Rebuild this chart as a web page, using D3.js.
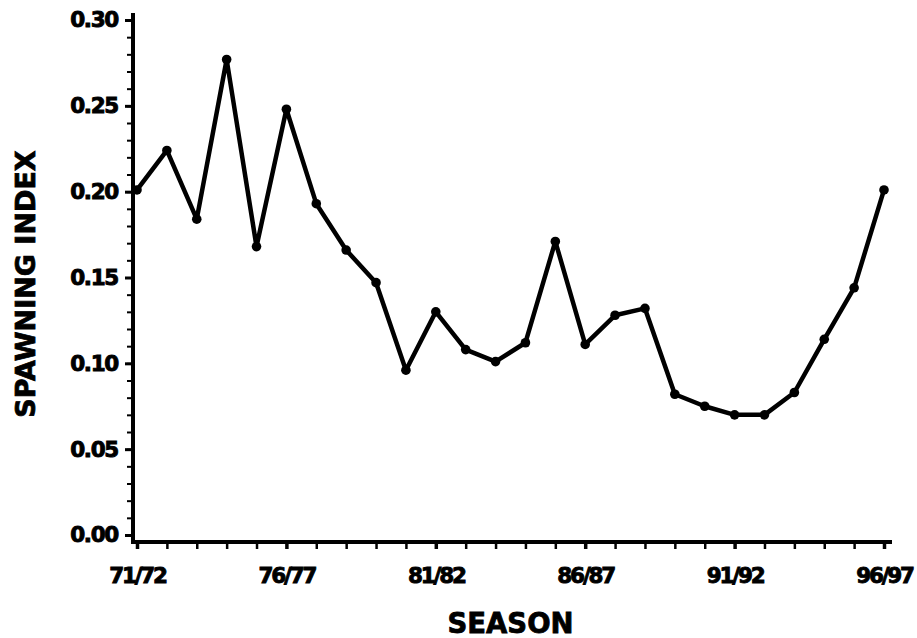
<!DOCTYPE html>
<html>
<head>
<meta charset="utf-8">
<script src="https://cdn.jsdelivr.net/npm/d3@7"></script>
<style>
  body { margin: 0; background: #fff; }
  text { font-family: "DejaVu Sans", sans-serif; font-weight: bold; }
</style>
</head>
<body>
<div id="viz"></div>
<script>
// data
var seasons = ["71/72","72/73","73/74","74/75","75/76","76/77","77/78","78/79","79/80","80/81",
               "81/82","82/83","83/84","84/85","85/86","86/87","87/88","88/89","89/90","90/91",
               "91/92","92/93","93/94","94/95","95/96","96/97"];
var spawningIndex = [0.201, 0.224, 0.184, 0.277, 0.168, 0.248, 0.193, 0.166, 0.147, 0.096,
                     0.130, 0.108, 0.101, 0.112, 0.171, 0.111, 0.128, 0.132, 0.082, 0.075,
                     0.070, 0.070, 0.083, 0.114, 0.144, 0.201];
var labelledSeasons = ["71/72","76/77","81/82","86/87","91/92","96/97"];
var yTicks = [0, 0.05, 0.10, 0.15, 0.20, 0.25, 0.30];

var W = 917, H = 638;
var left = 133, axisY = 542;

var svg = d3.select("#viz").append("svg")
  .attr("width", W)
  .attr("height", H);

var x = d3.scalePoint()
  .domain(seasons)
  .range([137, 884]);

var y = d3.scaleLinear()
  .domain([0, 0.30])
  .range([535, 20]);

// minor y ticks
svg.append("g")
  .attr("transform", "translate(" + left + ",0)")
  .call(d3.axisLeft(y).tickValues(d3.range(0, 0.301, 0.01)).tickSize(6).tickFormat(""))
  .call(function(g) { g.select(".domain").remove(); })
  .selectAll("line").attr("stroke", "#000").attr("stroke-width", 2);

// major y ticks + labels
var yAxis = svg.append("g")
  .attr("transform", "translate(" + left + ",0)")
  .call(d3.axisLeft(y).tickValues(yTicks).tickSize(8).tickPadding(7).tickFormat(d3.format(".2f")));
yAxis.select(".domain").remove();
yAxis.selectAll("line").attr("stroke", "#000").attr("stroke-width", 3);
yAxis.selectAll("text").attr("font-size", 21.5).attr("fill", "#000")
  .attr("font-family", "DejaVu Sans").attr("font-weight", "bold")
  .attr("letter-spacing", -1.3)
  .attr("stroke", "#000").attr("stroke-width", 0.9);

// x axis
var xAxis = svg.append("g")
  .attr("transform", "translate(0," + axisY + ")")
  .call(d3.axisBottom(x).tickSize(7).tickPadding(19)
    .tickFormat(function(d) { return labelledSeasons.indexOf(d) >= 0 ? d : ""; }));
xAxis.select(".domain").remove();
xAxis.selectAll("line").attr("stroke", "#000")
  .attr("stroke-width", function(d) { return labelledSeasons.indexOf(d) >= 0 ? 3.5 : 2.5; });
xAxis.selectAll("text").attr("font-size", 21.5).attr("fill", "#000")
  .attr("font-family", "DejaVu Sans").attr("font-weight", "bold")
  .attr("letter-spacing", -2.2)
  .attr("stroke", "#000").attr("stroke-width", 0.9);

// axis lines
svg.append("line")
  .attr("x1", left).attr("x2", left)
  .attr("y1", 13).attr("y2", axisY + 2)
  .attr("stroke", "#000").attr("stroke-width", 4);
svg.append("line")
  .attr("x1", left - 2).attr("x2", 892)
  .attr("y1", axisY).attr("y2", axisY)
  .attr("stroke", "#000").attr("stroke-width", 4);

// series line
var data = seasons.map(function(s, i) { return {season: s, value: spawningIndex[i]}; });

svg.append("path").datum(data)
  .attr("fill", "none")
  .attr("stroke", "#000")
  .attr("stroke-width", 4.5)
  .attr("stroke-linejoin", "round")
  .attr("d", d3.line()
    .x(function(d) { return x(d.season); })
    .y(function(d) { return y(d.value); }));

svg.selectAll(".dot").data(data).enter().append("circle")
  .attr("class", "dot")
  .attr("cx", function(d) { return x(d.season); })
  .attr("cy", function(d) { return y(d.value); })
  .attr("r", 4.8)
  .attr("fill", "#000");

// axis titles
svg.append("text")
  .attr("x", (137 + 884) / 2)
  .attr("y", 633)
  .attr("text-anchor", "middle")
  .attr("font-size", 27.5)
  .attr("stroke", "#000").attr("stroke-width", 0.8)
  .text("SEASON");

svg.append("text")
  .attr("transform", "translate(35," + 284 + ") rotate(-90)")
  .attr("text-anchor", "middle")
  .attr("font-size", 27)
  .attr("stroke", "#000").attr("stroke-width", 0.8)
  .text("SPAWNING INDEX");
</script>
</body>
</html>
